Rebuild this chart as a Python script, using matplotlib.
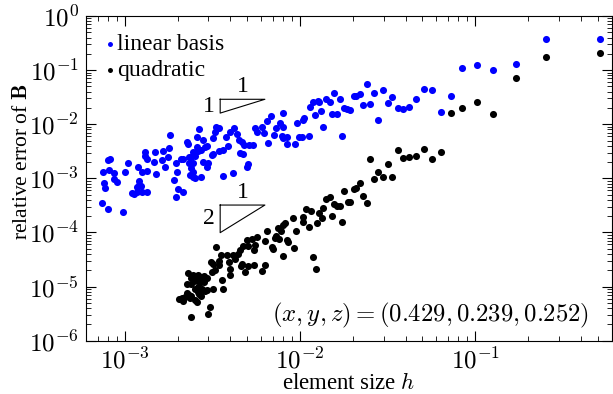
import matplotlib
matplotlib.use("Agg")
import matplotlib.pyplot as plt
import numpy as np
from matplotlib.ticker import FuncFormatter

# ---------------------------------------------------------------
# data (element size h, relative error)
# ---------------------------------------------------------------
h_lin = [
    7.52e-4, 8.1e-4, 8.65e-4, 7.63e-4, 7.71e-4, 8.05e-4, 8.2e-4, 8.65e-4, 8.97e-4, 1.0e-3, 1.04e-3, 7.41e-4, 7.97e-4, 9.7e-4,
    1.10e-3, 1.13e-3, 1.17e-3, 1.25e-3, 1.33e-3, 1.19e-3, 1.26e-3, 1.34e-3, 1.20e-3, 1.21e-3, 1.18e-3, 1.23e-3, 1.31e-3, 1.30e-3, 1.33e-3, 1.50e-3, 1.47e-3, 1.48e-3,
    1.66e-3, 1.62e-3, 1.69e-3, 1.77e-3, 1.79e-3, 1.82e-3, 1.96e-3, 1.99e-3, 1.91e-3, 2.0e-3, 2.14e-3, 1.96e-3, 2.09e-3, 2.14e-3, 2.25e-3, 2.28e-3, 2.31e-3, 2.40e-3,
    2.53e-3, 2.46e-3, 2.57e-3, 2.33e-3, 2.46e-3, 2.40e-3, 2.46e-3, 2.35e-3, 2.44e-3, 2.51e-3, 2.64e-3, 2.59e-3, 2.62e-3,
    2.72e-3, 2.78e-3, 2.80e-3, 2.87e-3, 2.95e-3, 2.71e-3, 2.99e-3, 2.93e-3, 3.13e-3, 3.2e-3, 3.17e-3, 3.27e-3, 3.31e-3, 3.46e-3, 3.46e-3, 3.62e-3,
    3.65e-3, 3.78e-3, 3.89e-3, 3.98e-3, 4.2e-3, 4.16e-3, 4.35e-3, 4.48e-3, 4.64e-3, 4.54e-3, 4.74e-3, 4.81e-3, 5.11e-3, 5.41e-3, 4.96e-3, 5.07e-3,
    5.53e-3, 5.66e-3, 6.04e-3, 6.25e-3, 6.5e-3, 6.8e-3, 6.59e-3, 7.29e-3, 7.69e-3, 8.03e-3, 7.13e-3, 7.86e-3, 8.03e-3, 8.46e-3, 8.39e-3, 9.36e-3,
    9.66e-3, 9.9e-3, 7.96e-3,
    1.02e-2, 1.12e-2, 1.04e-2, 1.06e-2, 1.14e-2, 1.19e-2, 1.26e-2, 1.29e-2, 1.22e-2, 1.32e-2, 1.36e-2, 1.40e-2, 1.48e-2, 1.52e-2, 1.62e-2, 1.57e-2,
    1.68e-2, 1.74e-2, 1.79e-2, 1.86e-2, 1.93e-2, 2.02e-2, 2.09e-2, 2.19e-2, 2.29e-2, 2.40e-2, 2.52e-2, 2.66e-2, 2.8e-2, 2.98e-2, 3.17e-2, 3.37e-2,
    3.62e-2, 3.89e-2, 4.21e-2, 4.6e-2, 5.07e-2, 5.63e-2, 6.34e-2, 7.27e-2, 8.46e-2, 0.102, 0.127, 0.170, 0.255, 0.513,
]
err_lin = [
    1.32e-3, 1.42e-3, 1.28e-3, 8.2e-4, 6.76e-4, 2.18e-3, 2.32e-3, 9.6e-4, 8.65e-4, 1.31e-3, 1.92e-3, 3.54e-4, 2.74e-4, 2.41e-4,
    5.42e-4, 5.13e-4, 5.65e-4, 5.65e-4, 5.58e-4, 1.65e-3, 1.31e-3, 1.34e-3, 8.9e-4, 7.5e-4, 7.05e-4, 7.36e-4, 3.1e-3, 2.64e-3, 2.24e-3, 1.19e-3, 2.03e-3, 3.13e-3,
    3.24e-3, 2.18e-3, 1.64e-3, 2.48e-3, 3.68e-3, 6.4e-3, 1.89e-3, 1.32e-3, 9.3e-4, 6.27e-4, 5.65e-4, 4.61e-4, 2.24e-3, 2.30e-3, 4.75e-3, 4.25e-3, 2.44e-3, 2.51e-3,
    2.55e-3, 3.1e-3, 3.84e-3, 1.92e-3, 1.89e-3, 1.53e-3, 1.32e-3, 1.15e-3, 1.07e-3, 1.0e-3, 8.05e-3, 5.87e-3, 3.2e-3,
    1.06e-3, 2.03e-3, 5.1e-3, 3.84e-3, 3.95e-3, 3.33e-3, 1.94e-3, 1.64e-3, 2.7e-3, 2.81e-3, 5.62e-3, 7.26e-3, 8.77e-3, 8.6e-3, 3.24e-3, 3.33e-3,
    1.10e-3, 5.87e-3, 4.0e-3, 7.26e-3, 8.4e-3, 1.24e-3, 6.59e-3, 5.1e-3, 4.75e-3, 2.9e-3, 2.78e-3, 4.13e-3, 4.13e-3, 4.13e-3, 1.64e-3, 1.82e-3,
    8.4e-3, 7.26e-3, 8.77e-3, 6.79e-3, 1.16e-2, 1.42e-2, 4.55e-3, 8.6e-3, 1.04e-2, 8.99e-3, 6.31e-3, 6.05e-3, 5.49e-3, 5.87e-3, 4.25e-3, 4.31e-3,
    1.04e-2, 5.73e-3, 1.63e-2,
    5.73e-3, 6.12e-3, 1.2e-2, 1.29e-2, 2.05e-2, 2.61e-2, 2.72e-2, 2.54e-2, 1.5e-2, 1.75e-2, 8.99e-3, 2.96e-2, 2.57e-2, 1.52e-2, 1.53e-2, 3.72e-2,
    2.89e-2, 5.97e-3, 1.97e-2, 1.88e-2, 1.85e-2, 3.36e-2, 3.28e-2, 3.61e-2, 2.24e-2, 5.53e-2, 2.39e-2, 3.77e-2, 1.2e-2, 4.34e-2, 2.43e-2, 3.18e-2,
    2.02e-2, 1.88e-2, 2.08e-2, 2.92e-2, 4.42e-2, 4.36e-2, 1.68e-2, 3.36e-2, 0.111, 0.126, 0.100, 0.130, 0.376, 0.371,
]

h_quad = [
    0.513, 0.255, 0.170, 0.127, 0.102, 8.46e-2, 7.27e-2, 6.34e-2, 5.63e-2, 5.07e-2,
    4.6e-2, 4.21e-2, 3.89e-2, 3.62e-2, 3.37e-2, 3.17e-2, 2.98e-2, 2.8e-2, 2.66e-2, 2.52e-2,
    2.29e-2, 2.19e-2, 2.09e-2, 2.02e-2, 1.79e-2, 1.48e-2, 1.40e-2, 2.40e-2, 1.88e-2, 1.94e-2,
    1.57e-2, 1.63e-2, 1.69e-2, 1.36e-2, 1.15e-2, 1.08e-2, 1.29e-2, 1.53e-2, 1.33e-2, 1.04e-2,
    1.04e-2, 1.25e-2, 1.74e-2, 1.12e-2, 9.16e-3, 8.2e-3, 8.03e-3, 9.51e-3, 7.52e-3, 7.74e-3,
    6.45e-3, 7.29e-3, 7.2e-3, 7.62e-3, 8.39e-3, 8.57e-3, 9.18e-3, 5.66e-3, 5.32e-3, 5.0e-3,
    6.31e-3, 6.89e-3, 7.04e-3, 7.96e-3, 1.19e-2, 1.23e-2, 5.53e-3, 5.47e-3, 5.07e-3, 4.75e-3,
    4.54e-3, 4.41e-3, 4.17e-3, 3.31e-3, 3.56e-3, 3.81e-3, 4.25e-3, 3.12e-3, 3.18e-3, 3.46e-3,
    3.44e-3, 3.93e-3, 4.69e-3, 4.63e-3, 5.05e-3, 5.48e-3, 6.27e-3, 4.85e-3, 6.04e-3, 3.98e-3,
    3.27e-3, 3.13e-3, 3.6e-3, 3.98e-3, 3.65e-3, 3.2e-3, 2.30e-3, 2.46e-3, 2.62e-3, 2.57e-3,
    2.74e-3, 2.84e-3, 2.93e-3, 2.40e-3, 2.49e-3, 2.6e-3, 2.25e-3, 2.38e-3, 2.72e-3, 2.84e-3,
    2.62e-3, 2.77e-3, 2.87e-3, 2.53e-3, 2.62e-3, 2.25e-3, 2.32e-3, 2.40e-3, 2.35e-3, 2.11e-3,
    2.15e-3, 2.04e-3, 2.2e-3, 2.51e-3, 2.57e-3, 2.66e-3, 2.72e-3, 3.06e-3, 2.99e-3, 2.38e-3, 2.95e-3,
]
err_quad = [
    0.205, 0.172, 7.24e-2, 1.56e-2, 2.54e-2, 1.99e-2, 1.59e-2, 3.1e-3, 2.30e-3, 3.52e-3,
    2.62e-3, 2.51e-3, 2.34e-3, 3.29e-3, 1.06e-3, 1.82e-3, 1.06e-3, 1.32e-3, 9.7e-4, 2.27e-3,
    4.71e-4, 8.2e-4, 6.7e-4, 6.43e-4, 5.75e-4, 4.51e-4, 4.2e-4, 3.45e-4, 3.69e-4, 3.6e-4,
    3.35e-4, 3.12e-4, 3.08e-4, 2.79e-4, 2.52e-4, 2.67e-4, 2.25e-4, 2.04e-4, 1.87e-4, 1.93e-4,
    1.56e-4, 1.51e-4, 1.59e-4, 1.27e-4, 1.82e-4, 1.51e-4, 1.40e-4, 1.06e-4, 1.19e-4, 1.08e-4,
    1.06e-4, 8.58e-5, 7.88e-5, 7.45e-5, 7.24e-5, 6.65e-5, 5.26e-5, 8.11e-5, 7.45e-5, 7.24e-5,
    7.03e-5, 5.37e-5, 5.0e-5, 3.66e-5, 3.56e-5, 2.1e-5, 5.93e-5, 4.69e-5, 5.61e-5, 5.61e-5,
    4.67e-5, 3.94e-5, 3.82e-5, 5.48e-5, 3.9e-5, 3.82e-5, 3.22e-5, 2.9e-5, 2.66e-5, 2.92e-5,
    2.53e-5, 2.84e-5, 2.66e-5, 2.39e-5, 2.39e-5, 2.55e-5, 2.47e-5, 1.83e-5, 1.96e-5, 2.08e-5,
    2.02e-5, 1.88e-5, 1.32e-5, 1.63e-5, 8.87e-6, 8.87e-6, 1.75e-5, 1.63e-5, 1.63e-5, 1.46e-5,
    1.52e-5, 1.56e-5, 1.46e-5, 1.42e-5, 1.28e-5, 1.28e-5, 1.11e-5, 1.11e-5, 1.23e-5, 1.23e-5,
    9.9e-6, 8.87e-6, 8.36e-6, 8.87e-6, 8.0e-6, 7.68e-6, 6.97e-6, 6.67e-6, 6.05e-6, 6.05e-6,
    5.4e-6, 5.8e-6, 6.48e-6, 5.62e-6, 5.24e-6, 7.27e-6, 6.67e-6, 4.13e-6, 3.1e-6, 2.77e-6, 8.61e-6,
]

# slope triangles: (slope, h_left, h_right, error at top edge)
slope_tris = [(1, 3.5e-3, 6.3e-3, 2.89e-2), (2, 3.5e-3, 6.3e-3, 3.21e-4)]

point_label = r"$(x,y,z)=(0.429,0.239,0.252)$"

# ---------------------------------------------------------------
plt.rcParams["font.family"] = ["Liberation Serif", "DejaVu Serif"]
plt.rcParams["mathtext.fontset"] = "cm"

fig = plt.figure(figsize=(6.13, 3.94), dpi=100)
ax = fig.add_axes([0.1403, 0.1353, 0.8573, 0.8241])

ax.scatter(h_lin, err_lin, s=26, c="#0000ff", linewidths=0, label="linear basis", zorder=3)
ax.scatter(h_quad, err_quad, s=26, c="k", linewidths=0, label="quadratic", zorder=3)

# reference slope triangles
for slope, x0, x1, yt in slope_tris:
    yb = yt * (x0 / x1) ** slope
    ax.plot([x0, x1, x0, x0], [yt, yt, yb, yt], color="k", lw=0.8)
    ax.annotate("1", xy=(np.sqrt(x0 * x1), yt), xytext=(0, 9), textcoords="offset points",
                ha="center", va="center", fontsize=17)
    ax.annotate(str(slope), xy=(x0, np.sqrt(yt * yb)), xytext=(-8, 0), textcoords="offset points",
                ha="center", va="center", fontsize=17)

ax.set_xscale("log")
ax.set_yscale("log")
ax.set_xlim(6e-4, 0.6)
ax.set_ylim(1e-6, 1)

pow10 = FuncFormatter(lambda v, p: r"$10^{%d}$" % round(np.log10(v)))
ax.xaxis.set_major_formatter(pow10)
ax.yaxis.set_major_formatter(pow10)

ax.tick_params(which="both", direction="in", top=True, right=True, labelsize=18)
ax.tick_params(which="major", length=7, width=0.8, pad=5)
ax.tick_params(which="minor", length=3.5, width=0.6)

ax.set_xlabel(r"element size $h$", fontsize=16.4, labelpad=0)
ax.set_ylabel(r"relative error of $\mathbf{B}$", fontsize=15.5)
ax.yaxis.set_label_coords(-0.1035, 0.552)

ax.text(0.957, 0.079, point_label, transform=ax.transAxes, ha="right", va="center", fontsize=17.8)

ax.legend(loc="upper left", frameon=False, fontsize=17, handletextpad=0.0, handlelength=0.6,
          borderaxespad=0.43, labelspacing=0.21, markerscale=0.7, borderpad=0.3)

fig.savefig("out.png", dpi=100)
